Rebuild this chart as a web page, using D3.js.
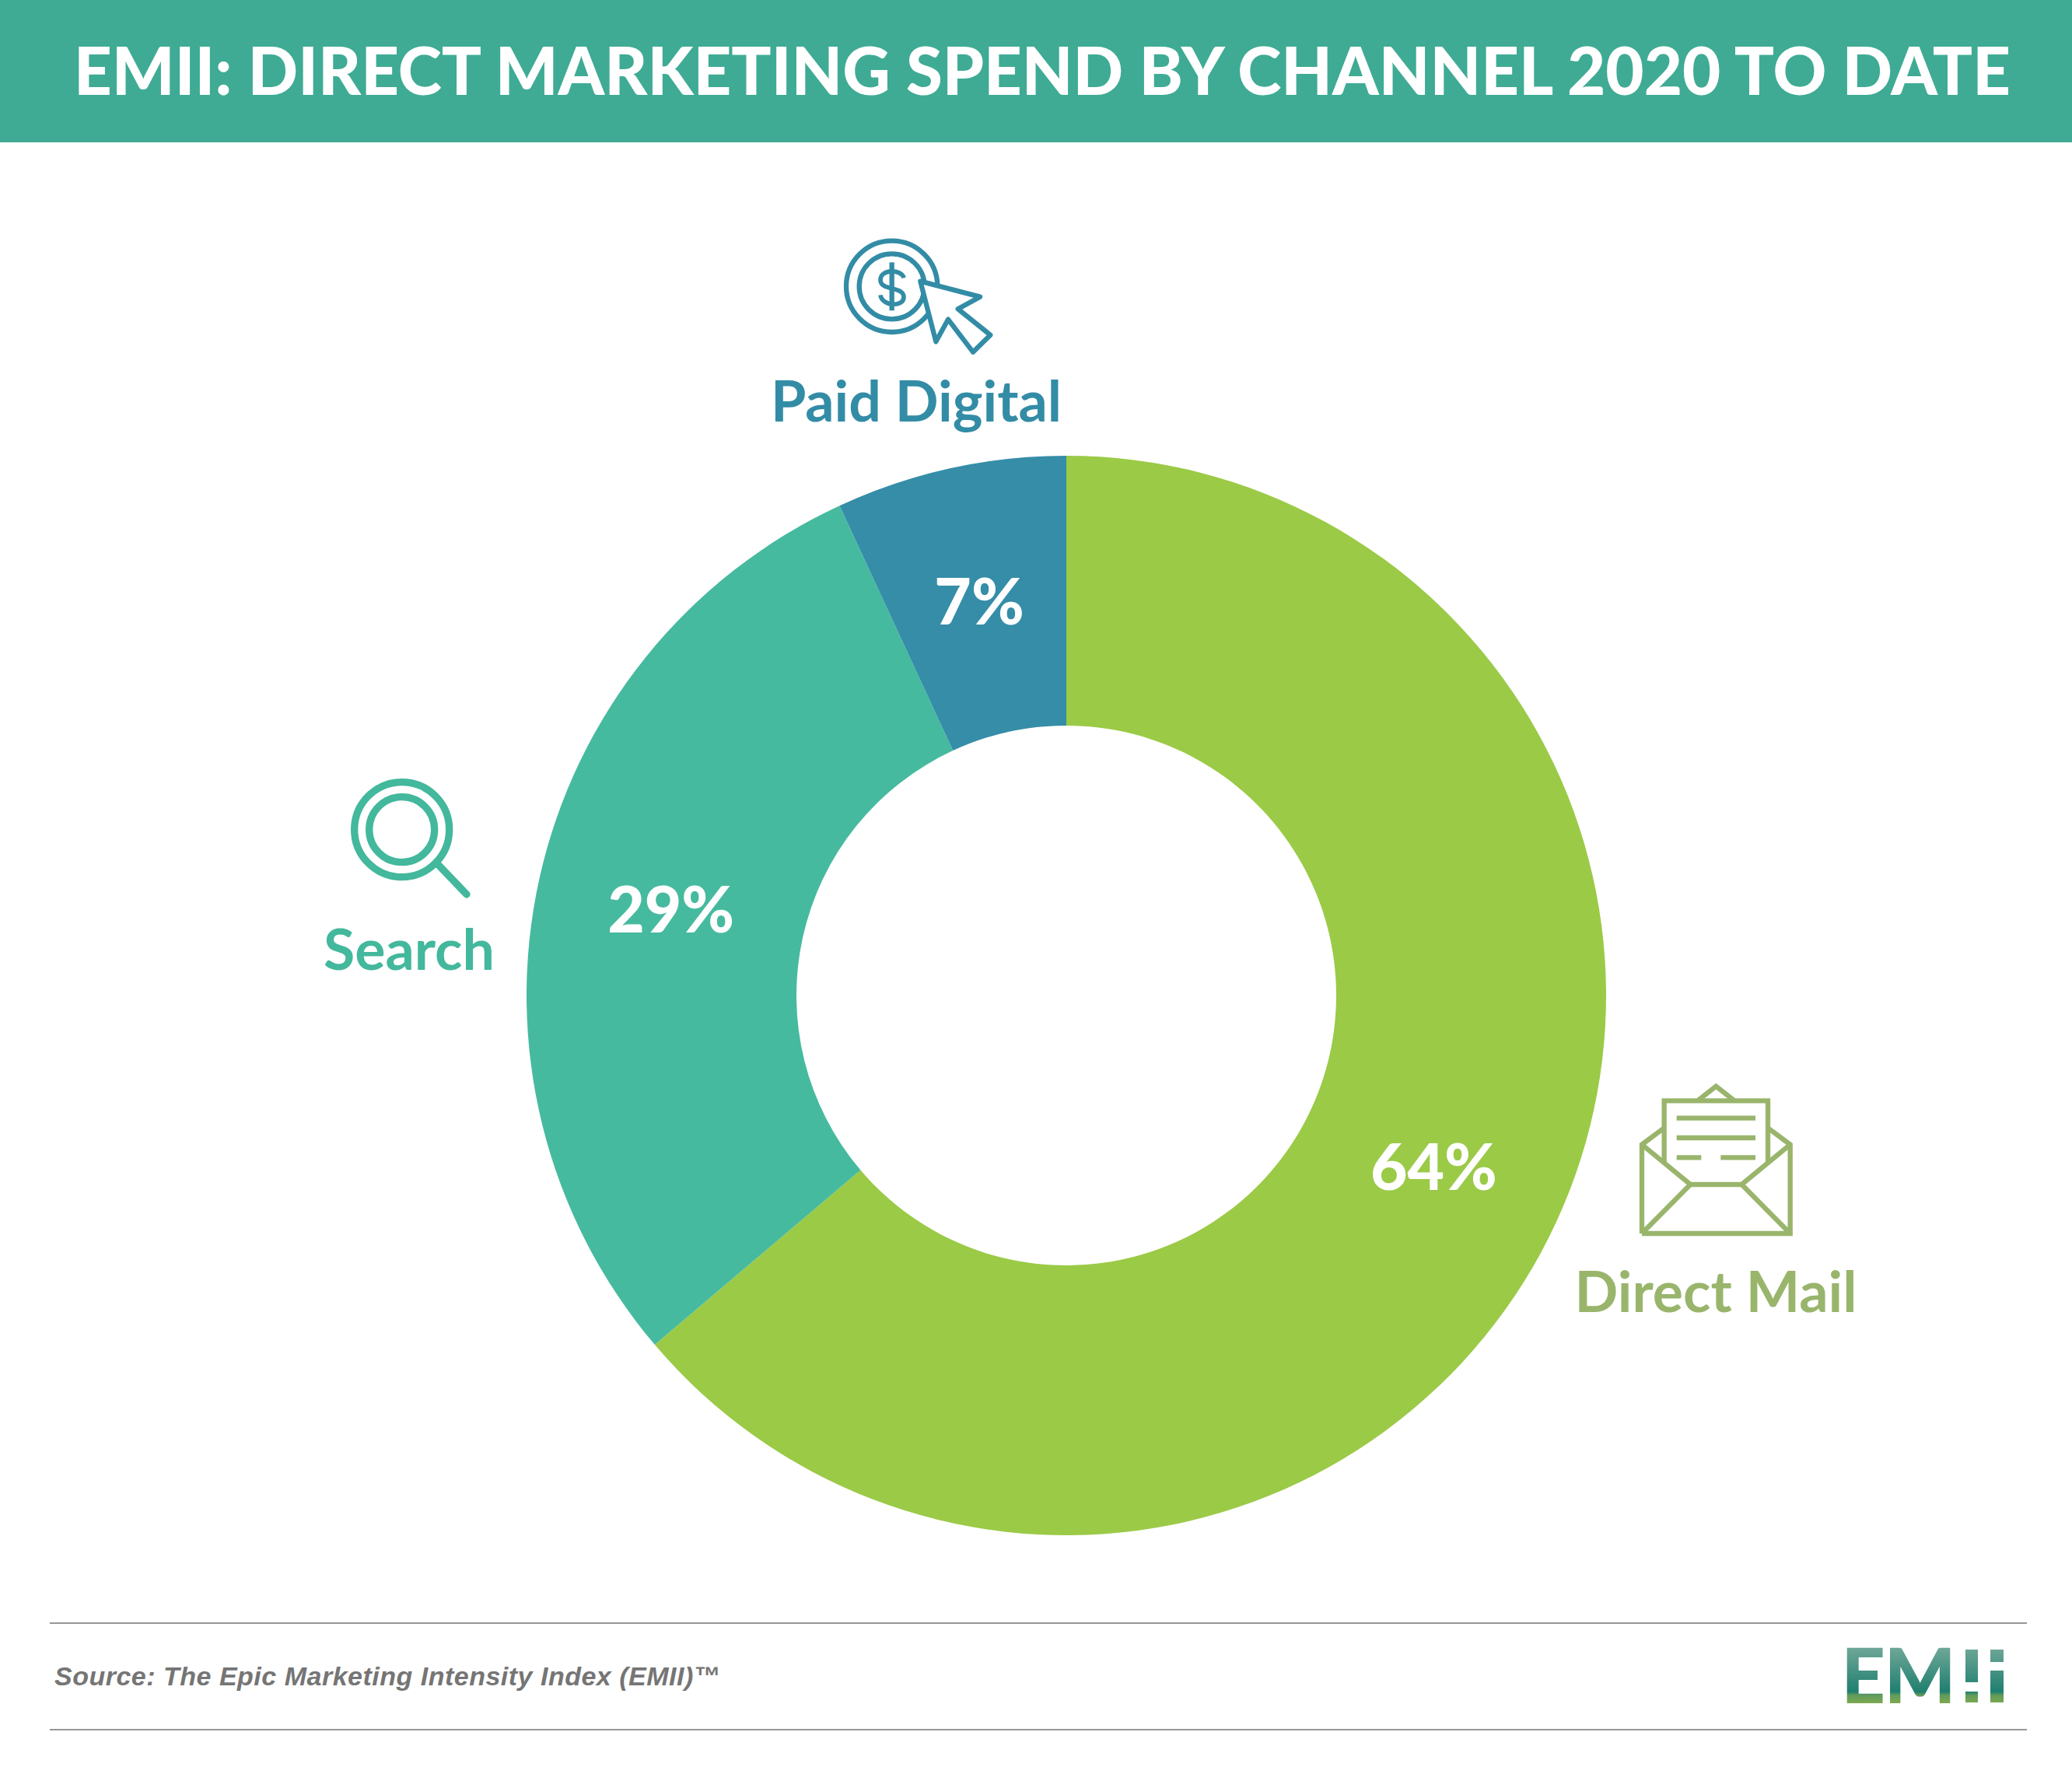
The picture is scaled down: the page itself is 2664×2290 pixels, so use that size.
<!DOCTYPE html>
<html>
<head>
<meta charset="utf-8">
<title>EMII: Direct Marketing Spend by Channel</title>
<script src="https://cdn.jsdelivr.net/npm/d3@7"></script>
<style>
  html, body { margin: 0; padding: 0; background: #fff; }
  svg { display: block; }
  text { font-family: Lato, sans-serif; }
</style>
</head>
<body>
<div id="chart"></div>
<script>
var titleText = "EMII: DIRECT MARKETING SPEND BY CHANNEL 2020 TO DATE";
var sourceText = "Source: The Epic Marketing Intensity Index (EMII)\u2122";

var channels = ["Direct Mail", "Search", "Paid Digital"];
// the labels round these
var shares = [63.8, 29.3, 6.9];
var sliceColours = ["#9bca47", "#46ba9f", "#358da8"];
var labelColours = ["#99b56c", "#43b89c", "#338ca6"];

var width = 2664;
var height = 2290;

var svg = d3.select("#chart")
    .append("svg")
    .attr("width", width)
    .attr("height", height);

var defs = svg.append("defs");

// logo fill, teal fading to a green foot
var logoGrad = defs.append("linearGradient")
    .attr("id", "logoGrad")
    .attr("gradientUnits", "userSpaceOnUse")
    .attr("x1", 0).attr("x2", 0)
    .attr("y1", 2121).attr("y2", 2189);
logoGrad.append("stop").attr("offset", "0").attr("stop-color", "#6ba596");
logoGrad.append("stop").attr("offset", "0.8").attr("stop-color", "#1f7f6f");
logoGrad.append("stop").attr("offset", "0.86").attr("stop-color", "#5f9a5c");
logoGrad.append("stop").attr("offset", "1").attr("stop-color", "#7aa850");

// title band
svg.append("rect")
    .attr("width", width)
    .attr("height", 183)
    .attr("fill", "#3fab94");

svg.append("text")
    .attr("x", 1340)
    .attr("y", 122)
    .attr("text-anchor", "middle")
    .attr("font-size", 85)
    .attr("font-weight", 900)
    .attr("fill", "#fff")
    .style("font-family", "'Lato Black', Lato, sans-serif")
    .text(titleText);

// donut
var cx = 1371, cy = 1280;
var outerRadius = 694, innerRadius = 347;

var pie = d3.pie()
    .sort(null)
    .value(function(d) { return d.value; });

var arc = d3.arc()
    .outerRadius(outerRadius)
    .innerRadius(innerRadius);

var pieData = pie(channels.map(function(c, i) {
    return { key: c, value: shares[i] };
}));

var donut = svg.append("g")
    .attr("transform", "translate(" + cx + "," + cy + ")");

donut.selectAll("path.slice")
    .data(pieData)
    .enter()
    .append("path")
    .attr("class", "slice")
    .attr("d", arc)
    .attr("fill", function(d, i) { return sliceColours[i]; });

donut.selectAll("text.pct")
    .data(pieData)
    .enter()
    .append("text")
    .attr("class", "pct")
    .attr("transform", function(d) { return "translate(" + arc.centroid(d) + ")"; })
    .attr("dy", 31)
    .attr("text-anchor", "middle")
    .attr("font-size", 82)
    .attr("font-weight", 900)
    .attr("fill", "#fff")
    .style("font-family", "'Lato Black', Lato, sans-serif")
    .text(function(d) { return Math.round(d.data.value) + "%"; });

// channel names
var labelX = [2206, 526, 1178];
var labelY = [1687, 1247, 542];

svg.selectAll("text.channel")
    .data(channels)
    .enter()
    .append("text")
    .attr("class", "channel")
    .attr("x", function(d, i) { return labelX[i]; })
    .attr("y", function(d, i) { return labelY[i]; })
    .attr("text-anchor", "middle")
    .attr("font-size", 73.5)
    .attr("font-weight", 700)
    .attr("fill", function(d, i) { return labelColours[i]; })
    .text(function(d) { return d; });

// icons, drawn in 3x crop units hence the scale(1/3)
function icon(x, y, colour) {
    return svg.append("g")
        .attr("transform", "translate(" + x + "," + y + ") scale(" + (1 / 3) + ")")
        .attr("fill", "none")
        .attr("stroke", colour);
}

var mail = icon(2000, 1370, labelColours[0]).attr("stroke-width", 19);
mail.append("path").attr("d", "M333,648H905V305L819,241M333,648V305L419,241");
mail.append("path").attr("d", "M419,372V136H819V372");
mail.append("path").attr("d", "M333,305L520,459H718L905,305");
mail.append("path").attr("d", "M338,643L520,459M718,459L900,643");
mail.append("path").attr("d", "M550,134L619,80L688,134");
mail.append("path").attr("d", "M467,203H771M467,279H771M467,355H562M637,355H771");

var search = icon(400, 970, labelColours[1]).attr("stroke-width", 28);
search.append("circle").attr("cx", 350).attr("cy", 290).attr("r", 183);
search.append("circle").attr("cx", 350).attr("cy", 290).attr("r", 126);
search.append("path").attr("d", "M490,425L600,540").attr("stroke-linecap", "round");

var paid = icon(1040, 280, labelColours[2]).attr("stroke-width", 19);
paid.append("circle").attr("cx", 320).attr("cy", 265).attr("r", 176);
paid.append("circle").attr("cx", 320).attr("cy", 265).attr("r", 126);
paid.append("path").attr("d", "M320,172V358");
paid.append("path").attr("d", "M366,232C358,198 276,196 276,240C276,284 366,262 366,306C366,346 282,342 276,298")
    .attr("stroke-width", 17);
paid.append("path")
    .attr("d", "M430,245L660,305L575,352L700,452L633,518L537,392L490,478Z")
    .attr("fill", "#fff")
    .attr("stroke-linejoin", "round");

// footer
var rules = [2087, 2224];
svg.selectAll("line.rule")
    .data(rules)
    .enter()
    .append("line")
    .attr("class", "rule")
    .attr("x1", 64)
    .attr("x2", 2606)
    .attr("y1", function(d) { return d; })
    .attr("y2", function(d) { return d; })
    .attr("stroke", "#979797")
    .attr("stroke-width", 2);

svg.append("text")
    .attr("x", 70)
    .attr("y", 2167)
    .attr("font-size", 34)
    .attr("letter-spacing", 0.5)
    .attr("font-weight", 700)
    .attr("font-style", "italic")
    .attr("fill", "#757575")
    .style("font-family", "'Liberation Sans', sans-serif")
    .text(sourceText);

// logo
var logo = svg.append("g").attr("fill", "url(#logoGrad)");
logo.append("text").attr("x", 2368).attr("y", 2189).attr("font-size", 96).attr("font-weight", 700)
    .attr("stroke", "url(#logoGrad)").attr("stroke-width", 2).text("EM");
logo.append("path").attr("d", "M2527,2121h16v42h-16zM2527,2175h16v14h-16zM2559,2121h17v16h-17zM2559,2148h17v41h-17z");
</script>
</body>
</html>
